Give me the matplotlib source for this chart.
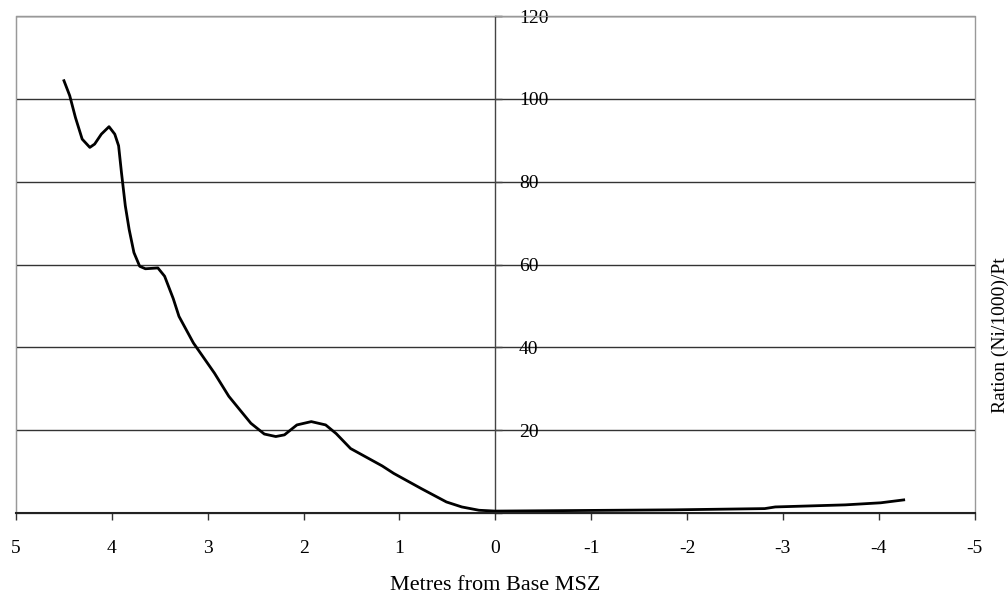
import matplotlib.pyplot as plt
import matplotlib as mpl
from matplotlib.patches import Rectangle

mpl.rcParams.update({
    "font.family": "Liberation Serif",
    "font.size": 14,
})

metres = [4.50, 4.44, 4.38, 4.31, 4.23, 4.18, 4.11, 4.03, 3.97, 3.93, 3.90,
          3.86, 3.82, 3.77, 3.71, 3.65, 3.52, 3.45, 3.36, 3.30, 3.15, 2.93,
          2.78, 2.66, 2.55, 2.41, 2.29, 2.20, 2.07, 1.92, 1.77, 1.66, 1.51,
          1.29, 1.18, 1.06, 0.77, 0.51, 0.35, 0.17, 0.00, -1.86, -2.81, -2.92,
          -3.65, -4.02, -4.26]
ratio = [104.4, 100.8, 95.5, 90.3, 88.3, 89.1, 91.5, 93.3, 91.5, 88.7, 82.2,
         74.2, 68.5, 62.9, 59.6, 59.0, 59.2, 57.2, 51.8, 47.5, 41.1, 33.8,
         28.2, 24.8, 21.7, 19.1, 18.5, 18.9, 21.3, 22.1, 21.3, 19.2, 15.6,
         12.8, 11.4, 9.6, 5.9, 2.7, 1.5, 0.7, 0.5, 0.8, 1.1, 1.5,
         2.0, 2.5, 3.2]

x_ticks = [5, 4, 3, 2, 1, 0, -1, -2, -3, -4, -5]
y_ticks = [0, 20, 40, 60, 80, 100, 120]
y_ticklabels = ["", "20", "40", "60", "80", "100", "120"]

fig = plt.figure(figsize=(10.08, 5.96), dpi=100)
ax = fig.add_axes([0.0159, 0.139, 0.951, 0.834])

ax.plot(metres, ratio, color="black", linewidth=2.0, solid_joinstyle="round", zorder=5)

ax.set_xlim(5, -5)
ax.set_ylim(0, 120)
ax.set_xticks(x_ticks)
ax.set_xticklabels([str(t) for t in x_ticks])
ax.tick_params(axis="x", direction="out", length=5, width=1, color="#333333", pad=14)

# y axis sits at x=0, labels to its right
ax.spines["right"].set_position(("data", 0))
ax.spines["right"].set_color("#444444")
ax.spines["right"].set_linewidth(1.0)
ax.yaxis.set_ticks_position("right")
ax.set_yticks(y_ticks)
ax.set_yticklabels(y_ticklabels)
ax.tick_params(axis="y", direction="out", length=5, width=1, color="#444444", pad=12)
ax.grid(axis="y", color="#333333", linewidth=1.0)

ax.spines["left"].set_color("#999999")
ax.spines["top"].set_color("#999999")
ax.spines["bottom"].set_color("#222222")
ax.spines["bottom"].set_linewidth(1.5)
ax.spines["bottom"].set_zorder(6)

# outer right border of the plot area
ax.add_patch(Rectangle((0, 0), 1, 1, transform=ax.transAxes, fill=False,
                       edgecolor="#999999", linewidth=1.0, clip_on=False, zorder=1))

ax.set_xlabel("Metres from Base MSZ", fontsize=16, labelpad=14)
fig.text(0.992, 0.438, "Ration (Ni/1000)/Pt", rotation=90, ha="center", va="center",
         fontsize=14)

fig.savefig("out.png", dpi=100)
